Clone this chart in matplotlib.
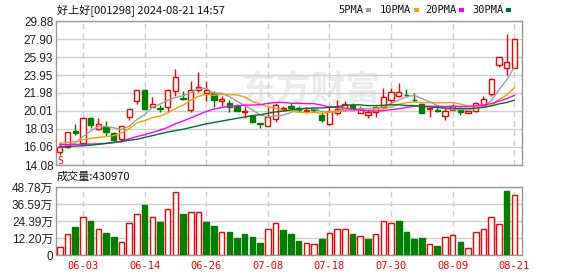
import pandas as pd
import matplotlib
matplotlib.use("Agg")
import matplotlib.pyplot as plt
from matplotlib.patches import Rectangle

# trading days 05-29 .. 08-21 (06-10 holiday)
days = pd.bdate_range("2024-05-29", "2024-08-21")
days = days[days != pd.Timestamp("2024-06-10")]
day_labels = list(days.strftime("%m-%d"))

opens = [15.5, 16.1, 17.85, 16.5, 19.25, 18.0, 18.25, 17.55, 16.9, 19.35,
         21.15, 22.35, 20.45, 20.3, 20.45, 22.15, 21.45, 20.15, 22.3, 21.98,
         21.98, 21.05, 20.9, 20.6, 19.87, 19.5, 18.68, 18.4, 19.15, 20.17,
         20.53, 20.35, 20.05, 20.2, 19.6, 18.55, 19.75, 20.15, 20.7, 19.8,
         19.6, 19.87, 20.45, 21.2, 21.6, 21.78, 21.22, 20.8, 20.25, 20.1,
         19.45, 20.15, 20.25, 19.8, 19.98, 20.7, 21.9, 25.1, 24.7, 24.72]
highs = [16.6, 17.75, 18.6, 19.3, 19.35, 19.25, 18.95, 17.7, 18.35, 20.25,
         22.35, 22.4, 21.55, 20.7, 22.4, 24.6, 22.25, 23.35, 24.3, 23.25,
         22.25, 21.7, 21.25, 20.8, 20.6, 19.6, 18.7, 20.45, 20.9, 20.6,
         20.9, 20.55, 20.45, 20.35, 19.85, 20.6, 21.25, 21.05, 20.9, 20.5,
         20.25, 20.6, 22.5, 22.5, 23.1, 22.4, 22.0, 20.8, 20.35, 20.35,
         20.45, 20.8, 20.45, 20.0, 20.96, 21.6, 23.6, 25.9, 28.5, 27.9]
lows = [15.2, 15.9, 17.4, 16.45, 18.1, 17.95, 17.3, 16.7, 16.6, 19.0,
        20.8, 20.15, 20.4, 19.85, 19.85, 21.6, 21.25, 19.9, 22.1, 21.05,
        20.45, 20.6, 19.9, 20.0, 19.25, 18.7, 18.15, 18.35, 18.8, 20.0,
        20.15, 19.9, 19.8, 19.95, 18.8, 18.45, 19.6, 20.0, 20.1, 19.75,
        19.2, 19.4, 20.25, 20.9, 21.55, 21.55, 20.95, 19.8, 19.35, 19.85,
        19.0, 20.1, 19.55, 19.8, 19.87, 20.6, 21.6, 24.8, 24.0, 24.72]
closes = [16.05, 17.7, 17.55, 19.25, 18.5, 18.55, 17.7, 16.8, 18.35, 20.25,
          22.3, 20.25, 20.8, 20.25, 22.3, 23.75, 21.35, 22.3, 22.6, 22.35,
          21.2, 21.35, 20.45, 20.05, 19.98, 18.8, 18.6, 19.35, 20.65, 20.35,
          20.33, 20.1, 20.15, 20.16, 19.0, 20.05, 20.25, 20.8, 20.15, 20.25,
          19.87, 20.45, 21.55, 22.1, 22.05, 21.72, 21.17, 19.8, 20.35, 20.0,
          20.05, 20.6, 19.87, 19.98, 20.9, 21.33, 23.5, 25.9, 25.37, 27.9]
# volume in 万 (10k)
volumes = [5.5, 14.8, 20.0, 27.6, 24.3, 19.0, 15.7, 12.8, 9.0, 22.8,
           29.3, 35.9, 27.6, 23.8, 33.3, 45.4, 29.3, 31.2, 31.2, 23.8,
           20.7, 16.4, 16.4, 12.1, 15.0, 12.8, 8.6, 19.0, 22.6, 17.8,
           15.0, 10.0, 8.3, 7.6, 11.4, 15.5, 18.3, 19.0, 15.0, 13.3,
           11.4, 14.8, 24.7, 23.3, 24.3, 16.7, 11.4, 12.1, 7.6, 6.4,
           12.6, 14.0, 9.3, 4.8, 16.4, 18.3, 27.6, 22.1, 45.7, 43.097]

ma5 = [16.0, 16.2, 16.5, 17.2, 17.81, 18.31, 18.31, 18.16, 17.98, 18.33,
       19.08, 19.59, 20.39, 20.77, 21.18, 21.47, 21.69, 21.99, 22.46, 22.47,
       21.96, 21.96, 21.59, 21.08, 20.61, 20.13, 19.58, 19.36, 19.48, 19.55,
       19.86, 20.16, 20.32, 20.22, 19.95, 19.89, 19.92, 20.05, 20.05, 20.3,
       20.26, 20.3, 20.45, 20.84, 21.2, 21.57, 21.72, 21.37, 21.02, 20.61,
       20.27, 20.16, 20.17, 20.1, 20.28, 20.54, 21.12, 22.32, 23.4, 24.8]
ma10 = [16.45, 16.55, 16.65, 16.85, 17.0, 17.1, 17.2, 17.3, 17.6, 18.07,
        18.7, 18.95, 19.28, 19.45, 19.8, 20.28, 20.64, 21.19, 21.62, 21.83,
        21.72, 21.83, 21.79, 21.77, 21.54, 21.04, 20.77, 20.47, 20.28, 20.08,
        19.99, 19.87, 19.84, 19.85, 19.75, 19.87, 20.04, 20.18, 20.13, 20.12,
        20.08, 20.11, 20.25, 20.45, 20.75, 20.92, 21.01, 20.91, 20.93, 20.91,
        20.92, 20.94, 20.77, 20.56, 20.44, 20.41, 20.64, 21.25, 21.75, 22.54]
ma20 = [16.3, 16.32, 16.34, 16.36, 16.38, 16.4, 16.45, 16.55, 16.7, 16.95,
        17.2, 17.4, 17.65, 17.9, 18.2, 18.6, 18.9, 19.25, 19.6, 19.95,
        20.21, 20.39, 20.53, 20.57, 20.65, 20.66, 20.7, 20.83, 20.95, 20.95,
        20.85, 20.85, 20.81, 20.81, 20.64, 20.46, 20.4, 20.33, 20.21, 20.1,
        20.03, 19.99, 20.04, 20.15, 20.25, 20.4, 20.53, 20.55, 20.53, 20.52,
        20.5, 20.53, 20.51, 20.5, 20.6, 20.66, 20.82, 21.08, 21.34, 21.72]
ma30 = [16.05, 16.1, 16.15, 16.2, 16.25, 16.35, 16.45, 16.55, 16.65, 16.8,
        16.9, 17.1, 17.3, 17.5, 17.7, 17.85, 18.0, 18.2, 18.4, 18.6,
        18.75, 18.9, 19.05, 19.2, 19.35, 19.5, 19.6, 19.75, 19.9, 19.99,
        20.13, 20.21, 20.3, 20.33, 20.35, 20.4, 20.48, 20.62, 20.68, 20.68,
        20.59, 20.6, 20.63, 20.69, 20.68, 20.61, 20.61, 20.52, 20.45, 20.37,
        20.33, 20.31, 20.29, 20.28, 20.32, 20.4, 20.56, 20.78, 20.94, 21.19]

price_ticks = [14.08, 16.06, 18.03, 20.01, 21.98, 23.95, 25.93, 27.90, 29.88]
vol_ticks = [0, 12.20, 24.39, 36.59, 48.78]
date_ticks = ["06-03", "06-14", "06-26", "07-08", "07-18", "07-30", "08-09", "08-21"]

RED = "#ff0000"
GREEN = "#008000"
ma_colors = ["#a0a0a0", "#f5a000", "#ff00ff", "#007030"]
ma_names = ["5PMA", "10PMA", "20PMA", "30PMA"]
LAB_FONT = ["Liberation Sans", "Noto Sans CJK SC"]
CJK = ["Noto Sans CJK SC", "DejaVu Sans"]

fig = plt.figure(figsize=(5.78, 2.76), dpi=100)
W, H = 578, 276
L, R = 56, 522
ax = fig.add_axes([L / W, 1 - 165 / H, (R - L) / W, 144 / H])
axv = fig.add_axes([L / W, 1 - 255 / H, (R - L) / W, 68 / H])

n = len(closes)
x = list(range(n))
xt = [day_labels.index(d) for d in date_ticks]

for a in (ax, axv):
    a.set_xlim(-0.5, 60)
    a.set_xticks(xt)
    a.tick_params(length=0)
    for s in a.spines.values():
        s.set_color("#999999")
        s.set_linewidth(1)
    a.grid(axis="y", color="#d0d0d0", linewidth=1, linestyle="-")
    a.grid(axis="x", color="#cccccc", linewidth=1, linestyle=(0, (4, 3)))
    a.set_axisbelow(True)

# watermark
ax.text(0.40, 0.53, "东方财富", transform=ax.transAxes, fontsize=25,
        family=CJK, color="#ebebeb", fontweight="bold", ha="left",
        va="center", zorder=0)

# candles
for i in x:
    o, h, l, c = opens[i], highs[i], lows[i], closes[i]
    up = c >= o
    col = RED if up else GREEN
    ax.vlines(i, l, h, color=col, linewidth=1, zorder=2)
    bh = max(abs(c - o), 0.03)
    ax.bar(i, bh, bottom=min(o, c), width=0.68,
           facecolor="white" if up else GREEN, edgecolor=col,
           linewidth=1, zorder=3)

for vals, col in zip([ma5, ma10, ma20, ma30], ma_colors):
    ax.plot(x, vals, color=col, linewidth=1, zorder=4)

ax.text(0, lows[0] - 0.1, "S", color=RED, fontsize=7, ha="center", va="top",
        family="DejaVu Sans Mono", zorder=5)

ax.set_ylim(price_ticks[0], price_ticks[-1])
ax.set_yticks(price_ticks)
ax.set_yticklabels([f"{t:.2f}" for t in price_ticks], family=LAB_FONT,
                   fontsize=8.5, color="#222222")
ax.tick_params(axis="y", pad=2)
ax.set_xticklabels([])

# volume, coloured against previous close
for i in x:
    prev = closes[i - 1] if i > 0 else opens[i]
    up = closes[i] >= prev
    axv.bar(i, volumes[i], width=0.72,
            facecolor="white" if up else GREEN,
            edgecolor=RED if up else GREEN, linewidth=1, zorder=3)
axv.set_ylim(0, vol_ticks[-1])
axv.set_yticks(vol_ticks)
axv.set_yticklabels(["0"] + [f"{t:.2f}万" for t in vol_ticks[1:]],
                    family=LAB_FONT, fontsize=8.5, color="#222222")
axv.tick_params(axis="y", pad=2)
axv.set_xticklabels(date_ticks, family="DejaVu Sans Mono", fontsize=7.5,
                    color=RED)
axv.tick_params(axis="x", pad=4)

# header texts
fig.text(57 / W, 1 - 10 / H, "好上好[001298] 2024-08-21 14:57", family=CJK,
         fontsize=8, color="#111111", va="center")
fig.text(57 / W, 1 - 177 / H, "成交量:430970", family=CJK, fontsize=8,
         color="#111111", va="center")

lx = [338, 380, 425, 472]
for name, col, px in zip(ma_names, ma_colors, lx):
    t = fig.text(px / W, 1 - 10 / H, name, family="DejaVu Sans Mono",
                 fontsize=7.5, color="#111111", va="center")
    fig.canvas.draw()
    bb = t.get_window_extent()
    fig.patches.append(Rectangle(((bb.x1 + 3) / W, (H - 12) / H), 5 / W,
                                 4 / H, transform=fig.transFigure,
                                 facecolor=col, edgecolor="none"))

fig.savefig("out.png", dpi=100)
